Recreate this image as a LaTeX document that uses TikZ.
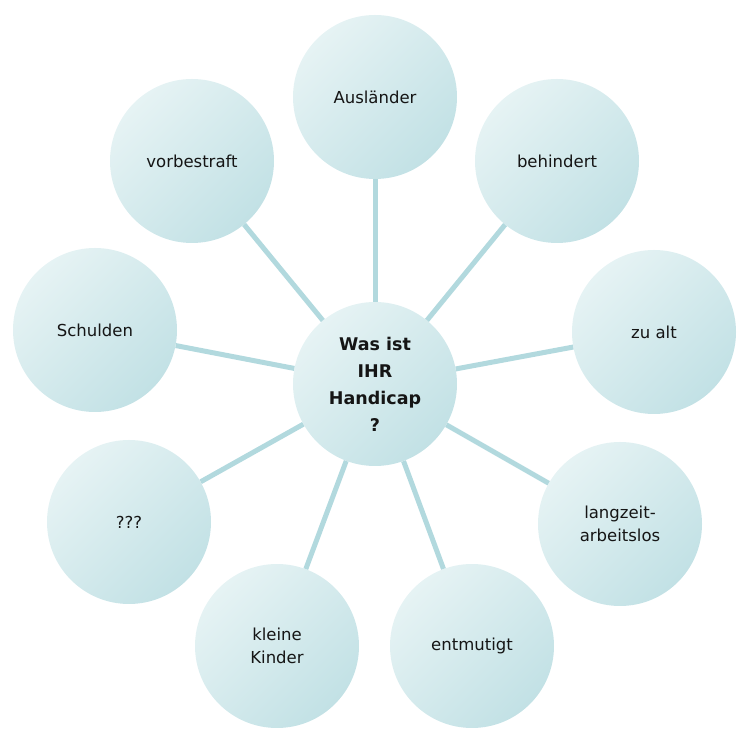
\documentclass[tikz,border=0pt]{standalone}
\usepackage{fontspec}
\setmainfont{DejaVu Sans}
\definecolor{ballLight}{HTML}{E6F3F4}
\definecolor{ballDark}{HTML}{C2E1E5}
\definecolor{spoke}{HTML}{B2D9DE}
\definecolor{txt}{HTML}{151515}
\tikzset{
  ball/.style={circle, minimum size=164pt, inner sep=0pt, draw=none,
    top color=ballLight, bottom color=ballDark, shading angle=45,
    align=center, text=txt, font=\fontsize{16.5}{23}\selectfont},
  hub/.style={ball, font=\bfseries\fontsize{17.5}{27}\selectfont},
  spokeline/.style={draw=spoke, line width=5pt}
}
\begin{document}
\begin{tikzpicture}[x=1pt,y=1pt]
\useasboundingbox (0,0) rectangle (750,741);
\node[hub]  (c)  at (375,357) {Was ist\\IHR\\Handicap\\?};
\node[ball] (n1) at (375,644) {Ausländer};
\node[ball] (n2) at (557,580) {behindert};
\node[ball] (n3) at (654,409) {zu alt};
\node[ball] (n4) at (620,217) {langzeit-\\arbeitslos};
\node[ball] (n5) at (472,95)  {entmutigt};
\node[ball] (n6) at (277,95)  {kleine\\Kinder};
\node[ball] (n7) at (129,219) {???};
\node[ball] (n8) at (95,411)  {Schulden};
\node[ball] (n9) at (192,580) {vorbestraft};
\foreach \n in {n1,n2,n3,n4,n5,n6,n7,n8,n9}
  \draw[spokeline] (c) -- (\n);
\end{tikzpicture}
\end{document}
